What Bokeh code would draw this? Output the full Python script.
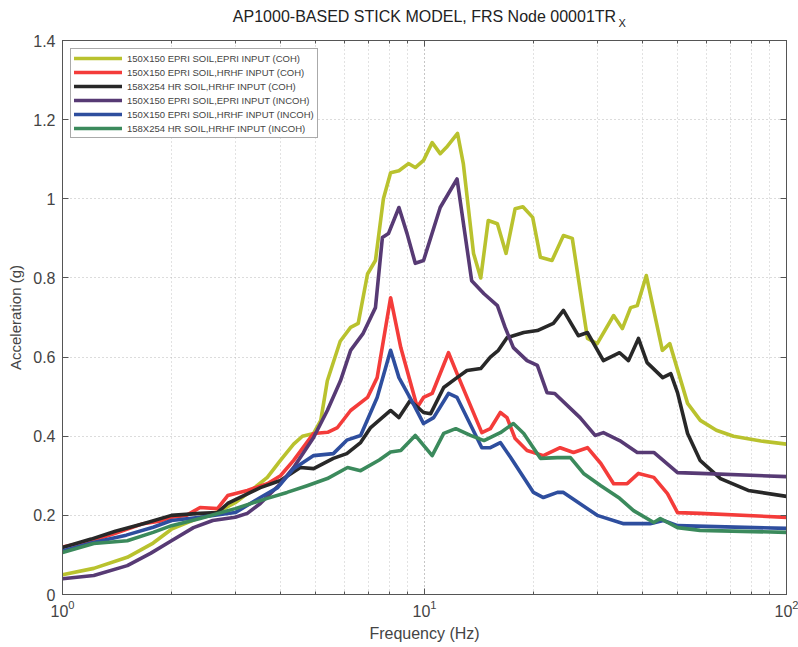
from bokeh.plotting import figure
from bokeh.models import (Range1d, LogAxis, LinearAxis, FixedTicker, Legend, LegendItem,
                          Title, LogTicker)
from bokeh.embed import file_html
from bokeh.resources import INLINE

# ---------------- data ----------------
series_names = [
    "150X150 EPRI SOIL,EPRI INPUT (COH)",
    "150X150 EPRI SOIL,HRHF INPUT (COH)",
    "158X254 HR SOIL,HRHF INPUT (COH)",
    "150X150 EPRI SOIL,EPRI INPUT (INCOH)",
    "150X150 EPRI SOIL,HRHF INPUT (INCOH)",
    "158X254 HR SOIL,HRHF INPUT (INCOH)",
]
series_colors = ["#b9c22e", "#f43c3a", "#282828", "#573a74", "#2e4e9e", "#3b8a5c"]

f_epri_epri_coh = [1.0, 1.22, 1.51, 1.78, 2.0, 2.4, 2.7, 3.0, 3.24, 3.68, 4.0, 4.35, 4.6, 4.94, 5.17, 5.39,
                   5.85, 6.25, 6.56, 6.96, 7.32, 7.7, 8.06, 8.5, 9.03, 9.43, 9.94, 10.5, 11.05, 11.5, 12.34,
                   12.8, 13.66, 14.3, 15.0, 15.9, 16.8, 17.8, 18.7, 19.9, 20.9, 22.5, 24.2, 25.6, 28.2,
                   30.0, 33.3, 35.2, 37.1, 38.7, 41.0, 45.4, 47.6, 53.3, 57.8, 64.0, 71.4, 85.0, 100.0]
a_epri_epri_coh = [0.05, 0.066, 0.094, 0.13, 0.165, 0.195, 0.21, 0.232, 0.255, 0.296, 0.339, 0.38, 0.40, 0.407,
                   0.44, 0.54, 0.64, 0.675, 0.685, 0.81, 0.844, 1.0, 1.066, 1.071, 1.089, 1.079, 1.097, 1.142,
                   1.114, 1.13, 1.165, 1.089, 0.862, 0.80, 0.945, 0.937, 0.862, 0.975, 0.98, 0.953, 0.852,
                   0.844, 0.907, 0.90, 0.647, 0.634, 0.705, 0.672, 0.725, 0.73, 0.806, 0.617, 0.634, 0.483,
                   0.44, 0.415, 0.40, 0.388, 0.38]

f_epri_hrhf_coh = [1.0, 1.2, 1.4, 1.67, 1.85, 2.0, 2.2, 2.4, 2.68, 2.86, 3.24, 3.68, 4.0, 4.35, 4.94, 5.4,
                   5.75, 6.25, 6.96, 7.4, 8.06, 8.6, 9.55, 9.94, 10.5, 11.65, 12.3, 14.4, 15.2, 16.2, 16.9,
                   17.8, 19.2, 21.3, 23.7, 25.8, 28.2, 30.7, 33.3, 36.3, 39.0, 43.0, 46.9, 50.0, 57.7, 100.0]
a_epri_hrhf_coh = [0.12, 0.135, 0.155, 0.179, 0.185, 0.195, 0.20, 0.22, 0.217, 0.25, 0.263, 0.28, 0.30, 0.339,
                   0.407, 0.41, 0.422, 0.465, 0.498, 0.548, 0.75, 0.624, 0.473, 0.498, 0.508, 0.611, 0.558,
                   0.409, 0.419, 0.46, 0.447, 0.394, 0.364, 0.351, 0.371, 0.359, 0.371, 0.331, 0.28, 0.28,
                   0.306, 0.296, 0.255, 0.207, 0.205, 0.195]

f_hr_hrhf_coh = [1.0, 1.2, 1.4, 1.67, 2.0, 2.4, 2.68, 2.86, 3.52, 4.0, 4.54, 4.94, 5.6, 6.1, 6.66, 7.1, 8.06,
                 8.5, 9.13, 9.94, 10.4, 11.3, 12.3, 13.1, 14.3, 15.2, 16.0, 16.9, 18.8, 20.5, 22.7, 24.2,
                 26.6, 28.2, 31.2, 34.6, 36.6, 39.0, 41.2, 45.5, 47.9, 50.0, 53.3, 57.7, 65.7, 78.4, 100.0]
a_hr_hrhf_coh = [0.119, 0.14, 0.16, 0.179, 0.2, 0.205, 0.207, 0.23, 0.27, 0.288, 0.321, 0.318, 0.344, 0.356,
                 0.384, 0.422, 0.465, 0.447, 0.49, 0.46, 0.457, 0.523, 0.548, 0.566, 0.571, 0.60, 0.617,
                 0.649, 0.662, 0.667, 0.685, 0.718, 0.654, 0.662, 0.591, 0.611, 0.591, 0.647, 0.586, 0.548,
                 0.558, 0.51, 0.407, 0.339, 0.293, 0.263, 0.248]

f_epri_epri_incoh = [1.0, 1.22, 1.51, 1.75, 2.0, 2.3, 2.6, 3.0, 3.24, 3.52, 4.0, 4.35, 4.94, 5.39, 5.86, 6.25,
                     6.77, 7.32, 7.65, 7.95, 8.5, 8.95, 9.43, 9.94, 11.05, 12.3, 13.5, 14.6, 15.9, 16.7, 17.6,
                     19.2, 20.5, 21.8, 22.9, 26.9, 29.6, 31.2, 34.6, 38.7, 43.0, 50.0, 57.7, 100.0]
a_epri_epri_incoh = [0.04, 0.048, 0.073, 0.104, 0.136, 0.169, 0.187, 0.195, 0.205, 0.23, 0.28, 0.321, 0.397,
                     0.465, 0.54, 0.617, 0.66, 0.725, 0.902, 0.912, 0.978, 0.912, 0.837, 0.844, 0.978, 1.05,
                     0.793, 0.76, 0.73, 0.675, 0.624, 0.591, 0.579, 0.51, 0.508, 0.447, 0.402, 0.409, 0.389,
                     0.359, 0.359, 0.308, 0.306, 0.298]

f_epri_hrhf_incoh = [1.0, 1.2, 1.5, 1.78, 2.0, 2.4, 3.0, 3.52, 3.93, 4.35, 4.94, 5.6, 6.1, 6.66, 7.4, 8.06,
                     8.5, 9.3, 9.94, 10.6, 11.65, 12.3, 14.4, 15.2, 16.2, 17.3, 20.0, 21.3, 23.3, 24.2, 30.0,
                     35.5, 42.0, 45.7, 50.0, 100.0]
a_epri_hrhf_incoh = [0.11, 0.13, 0.15, 0.17, 0.187, 0.195, 0.207, 0.245, 0.27, 0.318, 0.351, 0.356, 0.39,
                     0.402, 0.498, 0.617, 0.548, 0.483, 0.432, 0.447, 0.508, 0.498, 0.371, 0.371, 0.384, 0.346,
                     0.258, 0.245, 0.258, 0.258, 0.20, 0.179, 0.179, 0.187, 0.174, 0.167]

f_hr_hrhf_incoh = [1.0, 1.22, 1.51, 1.78, 2.0, 2.4, 3.0, 3.68, 4.17, 4.74, 5.39, 6.13, 6.66, 7.5, 8.06, 8.6,
                   9.43, 10.5, 11.3, 12.2, 13.4, 14.6, 16.2, 17.6, 18.8, 20.9, 23.3, 25.3, 27.5, 30.7, 34.6,
                   37.8, 43.0, 44.8, 50.0, 57.7, 100.0]
a_hr_hrhf_incoh = [0.106, 0.129, 0.136, 0.157, 0.174, 0.192, 0.217, 0.243, 0.258, 0.275, 0.293, 0.321, 0.313,
                   0.34, 0.36, 0.364, 0.402, 0.351, 0.407, 0.419, 0.402, 0.389, 0.409, 0.432, 0.407, 0.344,
                   0.346, 0.346, 0.306, 0.275, 0.243, 0.212, 0.182, 0.192, 0.169, 0.162, 0.157]

y_ticks = [0, 0.2, 0.4, 0.6, 0.8, 1.0, 1.2, 1.4]
y_tick_labels = ["0", "0.2", "0.4", "0.6", "0.8", "1", "1.2", "1.4"]

title_main = "AP1000-BASED STICK MODEL, FRS Node 00001TR"
title_sub = "X"
x_label = "Frequency (Hz)"
y_label = "Acceleration (g)"

series_f = [f_epri_epri_coh, f_epri_hrhf_coh, f_hr_hrhf_coh, f_epri_epri_incoh, f_epri_hrhf_incoh, f_hr_hrhf_incoh]
series_a = [a_epri_epri_coh, a_epri_hrhf_coh, a_hr_hrhf_coh, a_epri_epri_incoh, a_epri_hrhf_incoh, a_hr_hrhf_incoh]

FONT = "Liberation Sans"
AX = "#555555"

# ---------------- figure ----------------
p = figure(x_axis_type="log", x_range=Range1d(1, 100), y_range=Range1d(0, 1.4),
           width=798, height=647, title=title_main,
           min_border_left=62, min_border_right=12, min_border_top=40, min_border_bottom=53,
           output_backend="svg", toolbar_location=None, background_fill_color="white",
           border_fill_color="white")
p.title.align = "center"
p.title.text_font = FONT
p.title.text_font_size = "16px"
p.title.text_font_style = "normal"
p.title.text_color = "#222222"
p.title.standoff = -20
p.outline_line_color = AX
p.outline_line_width = 1

renderers = []
for f, a, c in zip(series_f, series_a, series_colors):
    r = p.line(f, a, line_color=c, line_width=3.6, line_join="round", line_cap="round")
    renderers.append(r)

# axes
xa = p.xaxis[0]
xa.ticker = LogTicker(num_minor_ticks=10)
xa.axis_label = x_label
xa.axis_label_text_font = FONT
xa.axis_label_text_font_size = "16px"
xa.axis_label_text_font_style = "normal"
xa.axis_label_standoff = 5
xa.major_label_text_font = FONT
xa.major_label_text_font_size = "16px"
xa.major_label_standoff = 5
xa.major_tick_in = 6
xa.major_tick_out = 0
xa.minor_tick_in = 3
xa.minor_tick_out = 0
xa.axis_line_color = AX
xa.major_tick_line_color = AX
xa.minor_tick_line_color = AX

ya = p.yaxis[0]
ya.ticker = FixedTicker(ticks=y_ticks)
ya.major_label_overrides = {t: l for t, l in zip(y_ticks, y_tick_labels)}
ya.axis_label = y_label
ya.axis_label_text_font = FONT
ya.axis_label_text_font_size = "15px"
ya.axis_label_text_font_style = "normal"
ya.axis_label_standoff = 6
ya.major_label_text_font = FONT
ya.major_label_text_font_size = "16px"
ya.major_label_standoff = 7
ya.major_tick_in = 6
ya.major_tick_out = 0
ya.minor_tick_line_color = None
ya.axis_line_color = AX
ya.major_tick_line_color = AX

top = LogAxis(ticker=LogTicker(num_minor_ticks=10), major_label_text_color=None,
              major_tick_in=6, major_tick_out=0, minor_tick_in=3, minor_tick_out=0,
              axis_line_color=AX, major_tick_line_color=AX,
              minor_tick_line_color=AX, major_label_standoff=0)
p.add_layout(top, "above")
# invisible spacer axis that only reserves room between the frame and the title rows
spacer = LogAxis(ticker=LogTicker(), major_label_text_color=None, major_tick_in=0, major_tick_out=12,
                 minor_tick_in=0, minor_tick_out=0, axis_line_color=None, major_tick_line_color=None,
                 minor_tick_line_color=None, major_label_standoff=0)
p.add_layout(spacer, "above")
right = LinearAxis(ticker=FixedTicker(ticks=y_ticks), major_label_text_color=None,
                   major_tick_in=6, major_tick_out=0, minor_tick_line_color=None,
                   axis_line_color=AX, major_tick_line_color=AX, major_label_standoff=0)
p.add_layout(right, "right")

# subscript of the title, as its own small title row
sub = Title(text=title_sub, align="left", offset=556, text_font=FONT, text_font_size="11px",
            text_font_style="normal", text_color="#222222", standoff=0)
p.add_layout(sub, "above")

# grid (dotted, Matlab style)
p.xgrid.ticker = LogTicker(num_minor_ticks=10)
p.xgrid.grid_line_color = "#b8b8b8"
p.xgrid.grid_line_dash = "1 3"
p.xgrid.minor_grid_line_color = "#c4c4c4"
p.xgrid.minor_grid_line_dash = "1 3"
p.ygrid.ticker = FixedTicker(ticks=y_ticks)
p.ygrid.grid_line_color = "#b8b8b8"
p.ygrid.grid_line_dash = "1 3"

# legend
items = [LegendItem(label=n, renderers=[r]) for n, r in zip(series_names, renderers)]
legend = Legend(items=items, location="top_left", label_text_font=FONT, label_text_font_size="9.5px",
                glyph_width=48, glyph_height=12, label_height=12, spacing=2, label_standoff=5,
                padding=3, margin=8, border_line_color=AX, border_line_width=1,
                background_fill_color="white", background_fill_alpha=1.0)
p.add_layout(legend, "center")

open("out.html", "w").write(file_html(p, INLINE))
